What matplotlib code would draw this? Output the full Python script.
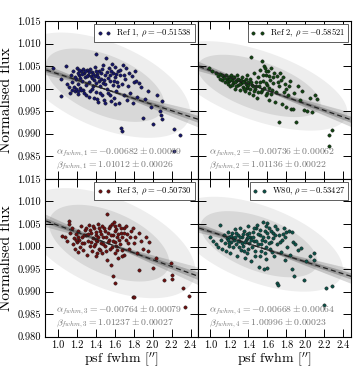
import numpy as np
import matplotlib
matplotlib.use("Agg")
import matplotlib.pyplot as plt

plt.rcParams["font.family"] = "serif"
plt.rcParams["font.serif"] = ["cmr10", "DejaVu Serif"]
plt.rcParams["mathtext.fontset"] = "cm"
plt.rcParams["axes.formatter.use_mathtext"] = True

# ---- data ----
labels = ["Ref 1", "Ref 2", "Ref 3", "W80"]
rhos = [-0.51538, -0.58521, -0.50730, -0.53427]
alphas = [-0.00682, -0.00736, -0.00764, -0.00668]
alpha_errs = [0.00069, 0.00062, 0.00079, 0.00064]
betas = [1.01012, 1.01136, 1.01237, 1.00996]
beta_errs = [0.00026, 0.00022, 0.00027, 0.00023]
colors = ["#16166a", "#134513", "#6e1010", "#0d5249"]

ref1_points = np.array([
    (0.95, 1.0046), (1.04, 1.0022), (1.04, 0.9984), (1.09, 1.0050), (1.10, 1.0010),
    (1.12, 1.0003), (1.13, 0.9990), (1.14, 1.0030), (1.15, 1.0015), (1.17, 1.0004),
    (1.18, 0.9995), (1.19, 1.0022), (1.20, 1.0045), (1.21, 1.0010), (1.22, 0.9987),
    (1.23, 1.0030), (1.24, 1.0002), (1.25, 1.0040), (1.26, 1.0018), (1.27, 0.9996),
    (1.28, 1.0035), (1.29, 1.0025), (1.30, 1.0008), (1.30, 0.9985), (1.31, 1.0042),
    (1.32, 1.0030), (1.33, 1.0015), (1.34, 0.9995), (1.35, 1.0028), (1.36, 1.0036),
    (1.37, 1.0005), (1.38, 0.9980), (1.38, 1.0020), (1.39, 1.0048), (1.40, 1.0077),
    (1.40, 1.0012), (1.41, 0.9992), (1.42, 1.0032), (1.43, 0.9970), (1.44, 1.0040),
    (1.45, 1.0005), (1.46, 1.0022), (1.47, 0.9985), (1.48, 1.0052), (1.48, 1.0012),
    (1.49, 0.9975), (1.50, 1.0030), (1.51, 1.0068), (1.52, 1.0000), (1.53, 0.9990),
    (1.54, 1.0045), (1.55, 1.0018), (1.56, 0.9972), (1.57, 1.0055), (1.58, 1.0035),
    (1.58, 1.0008), (1.59, 0.9980), (1.60, 1.0025), (1.61, 1.0048), (1.62, 0.9995),
    (1.63, 1.0015), (1.64, 1.0040), (1.65, 0.9968), (1.66, 1.0030), (1.67, 0.9912),
    (1.68, 0.9906), (1.68, 1.0010), (1.69, 1.0052), (1.70, 0.9985), (1.71, 1.0022),
    (1.72, 1.0045), (1.73, 0.9975), (1.74, 1.0005), (1.75, 1.0035), (1.76, 0.9990),
    (1.78, 1.0028), (1.79, 0.9968), (1.80, 1.0015), (1.82, 1.0040), (1.83, 1.0016),
    (1.84, 0.9982), (1.86, 1.0013), (1.88, 1.0004), (1.90, 0.9935), (1.92, 0.9978),
    (1.95, 0.9995), (1.98, 0.9960), (2.01, 0.9922), (2.05, 0.9985), (2.08, 0.9951),
    (2.09, 0.9942), (2.10, 0.9933), (2.10, 0.9972), (2.23, 0.9910), (2.29, 0.9898),
    (2.23, 0.9862),
    (1.16, 1.0038), (1.18, 1.0026), (1.21, 1.0034), (1.23, 1.0041), (1.24, 1.0024),
    (1.26, 1.0032), (1.27, 1.0044), (1.29, 1.0038), (1.31, 1.0027), (1.33, 1.0036),
    (1.34, 1.0044), (1.36, 1.0024), (1.37, 1.0032), (1.39, 1.0028), (1.41, 1.0039),
    (1.43, 1.0026), (1.44, 1.0016), (1.46, 1.0034), (1.47, 1.0044), (1.49, 1.0020),
    (1.50, 1.0010), (1.52, 1.0036), (1.53, 1.0024), (1.55, 1.0030), (1.56, 1.0040),
    (1.59, 1.0016), (1.62, 1.0032), (1.64, 1.0005), (1.66, 1.0042), (1.70, 1.0030),
    (1.25, 0.9998), (1.28, 0.9990), (1.33, 0.9982), (1.36, 1.0000), (1.42, 0.9978),
    (1.45, 0.9990), (1.50, 0.9968), (1.55, 0.9985), (1.60, 0.9965), (1.15, 0.9998),
    (1.19, 1.0000), (1.22, 0.9994),
])

ref2_points = np.array([
    (0.98, 1.0045), (1.02, 1.0040), (1.06, 1.0035), (1.08, 1.0028), (1.10, 1.0032),
    (1.12, 1.0020), (1.13, 1.0027), (1.15, 1.0015), (1.16, 1.0030), (1.17, 1.0022),
    (1.18, 1.0010), (1.19, 1.0026), (1.20, 1.0018), (1.21, 1.0005), (1.22, 1.0030),
    (1.23, 1.0020), (1.24, 1.0012), (1.25, 1.0025), (1.26, 1.0000), (1.27, 1.0016),
    (1.28, 1.0030), (1.29, 1.0008), (1.30, 1.0020), (1.31, 0.9998), (1.32, 1.0012),
    (1.33, 1.0025), (1.34, 1.0004), (1.35, 1.0018), (1.36, 0.9995), (1.37, 1.0010),
    (1.38, 1.0030), (1.39, 1.0002), (1.40, 1.0015), (1.41, 0.9990), (1.42, 1.0022),
    (1.43, 1.0070), (1.44, 1.0008), (1.45, 0.9985), (1.46, 1.0035), (1.47, 1.0000),
    (1.48, 1.0015), (1.49, 0.9980), (1.50, 1.0025), (1.51, 1.0005), (1.52, 1.0042),
    (1.53, 0.9992), (1.54, 1.0061), (1.55, 1.0018), (1.56, 1.0050), (1.57, 1.0046),
    (1.58, 0.9985), (1.59, 1.0030), (1.60, 1.0008), (1.61, 1.0040), (1.62, 0.9975),
    (1.63, 1.0020), (1.64, 1.0046), (1.65, 0.9998), (1.66, 1.0012), (1.67, 1.0035),
    (1.68, 0.9970), (1.70, 1.0028), (1.72, 0.9927), (1.72, 1.0005), (1.74, 1.0020),
    (1.75, 0.9965), (1.77, 0.9992), (1.78, 1.0010), (1.80, 0.9960), (1.82, 0.9985),
    (1.84, 1.0018), (1.85, 0.9955), (1.87, 0.9955), (1.88, 0.9990), (1.90, 0.9927),
    (1.92, 1.0005), (1.94, 0.9975), (1.96, 0.9994), (1.98, 0.9953), (2.02, 0.9950),
    (2.05, 0.9980), (2.07, 0.9948), (2.10, 0.9985), (2.12, 0.9978), (2.25, 0.9898),
    (2.28, 0.9909), (2.25, 0.9872),
    (1.14, 1.0024), (1.17, 1.0016), (1.19, 1.0020), (1.21, 1.0022), (1.23, 1.0008),
    (1.24, 1.0026), (1.26, 1.0014), (1.27, 1.0006), (1.29, 1.0022), (1.31, 1.0010),
    (1.32, 1.0020), (1.34, 1.0014), (1.35, 1.0000), (1.37, 1.0022), (1.38, 1.0004),
    (1.40, 1.0008), (1.42, 1.0000), (1.43, 1.0014), (1.45, 1.0005), (1.46, 0.9995),
    (1.48, 1.0006), (1.50, 0.9992), (1.52, 1.0014), (1.54, 0.9998), (1.56, 1.0002),
    (1.58, 1.0012), (1.60, 0.9990), (1.62, 1.0002), (1.64, 0.9988), (1.66, 1.0025),
    (1.69, 0.9992), (1.71, 1.0015), (1.58, 1.0038), (1.62, 1.0028), (1.55, 1.0030),
    (1.73, 1.0035), (1.76, 1.0025), (1.80, 1.0000), (1.83, 1.0005), (1.10, 1.0022),
    (1.12, 1.0030),
])

ref3_points = np.array([
    (1.05, 1.0024), (1.08, 1.0020), (1.10, 1.0012), (1.12, 1.0057), (1.12, 1.0050),
    (1.13, 1.0030), (1.15, 1.0040), (1.16, 1.0005), (1.17, 1.0018), (1.18, 0.9995),
    (1.19, 1.0028), (1.20, 1.0010), (1.21, 0.9988), (1.22, 1.0035), (1.23, 1.0015),
    (1.24, 1.0000), (1.25, 1.0045), (1.26, 1.0022), (1.27, 0.9992), (1.28, 1.0008),
    (1.29, 1.0037), (1.30, 1.0025), (1.31, 0.9982), (1.32, 1.0012), (1.33, 1.0048),
    (1.34, 1.0002), (1.35, 1.0030), (1.36, 0.9990), (1.37, 1.0018), (1.38, 1.0040),
    (1.39, 1.0005), (1.40, 0.9978), (1.41, 1.0025), (1.42, 1.0012), (1.43, 1.0050),
    (1.44, 0.9995), (1.45, 1.0035), (1.46, 1.0008), (1.47, 0.9985), (1.48, 1.0020),
    (1.49, 1.0042), (1.50, 1.0002), (1.51, 0.9990), (1.52, 1.0073), (1.52, 0.9970),
    (1.53, 1.0030), (1.54, 1.0015), (1.55, 1.0045), (1.56, 0.9960), (1.57, 1.0000),
    (1.58, 0.9935), (1.58, 1.0025), (1.59, 1.0055), (1.60, 0.9918), (1.60, 1.0010),
    (1.61, 0.9985), (1.62, 1.0038), (1.63, 1.0020), (1.64, 0.9975), (1.65, 1.0048),
    (1.66, 1.0005), (1.67, 1.0030), (1.68, 0.9992), (1.70, 0.9981), (1.70, 1.0042),
    (1.72, 1.0015), (1.73, 1.0028), (1.75, 0.9995), (1.77, 1.0035), (1.79, 1.0041),
    (1.79, 0.9889), (1.80, 0.9888), (1.80, 1.0008), (1.82, 1.0020), (1.84, 0.9985),
    (1.86, 1.0030), (1.86, 0.9948), (1.88, 1.0012), (1.90, 0.9995), (1.93, 1.0020),
    (1.95, 0.9989), (1.96, 1.0010), (2.00, 0.9952), (2.04, 0.9974), (2.12, 0.9926),
    (2.19, 0.9963), (2.20, 0.9937), (2.21, 0.9927), (2.32, 0.9907), (2.38, 0.9890),
    (2.34, 0.9866),
    (1.30, 1.0040), (1.32, 1.0028), (1.34, 1.0036), (1.35, 1.0010), (1.37, 1.0045),
    (1.38, 1.0002), (1.40, 1.0032), (1.41, 1.0015), (1.43, 1.0022), (1.44, 1.0040),
    (1.46, 1.0028), (1.47, 1.0045), (1.48, 1.0005), (1.50, 1.0035), (1.51, 1.0022),
    (1.53, 1.0010), (1.54, 1.0040), (1.56, 1.0025), (1.57, 1.0050), (1.58, 1.0012),
    (1.60, 1.0035), (1.61, 1.0045), (1.62, 1.0002), (1.64, 1.0028), (1.65, 1.0015),
    (1.67, 1.0040), (1.68, 1.0020), (1.70, 1.0030), (1.72, 1.0046), (1.74, 1.0008),
    (1.76, 1.0022), (1.26, 1.0008), (1.28, 1.0025), (1.22, 1.0022), (1.19, 1.0015),
    (1.45, 0.9992), (1.55, 0.9995), (1.63, 0.9992), (1.68, 0.9980), (1.42, 0.9985),
])

w80_points = np.array([
    (1.00, 1.0020), (1.03, 1.0012), (1.06, 1.0005), (1.08, 1.0000), (1.10, 1.0047),
    (1.11, 1.0015), (1.12, 0.9995), (1.14, 1.0025), (1.15, 1.0008), (1.16, 0.9990),
    (1.17, 1.0018), (1.18, 1.0032), (1.19, 1.0002), (1.20, 1.0022), (1.21, 0.9985),
    (1.22, 1.0010), (1.23, 1.0030), (1.24, 0.9998), (1.25, 1.0015), (1.26, 1.0038),
    (1.27, 1.0005), (1.28, 0.9980), (1.29, 1.0025), (1.30, 1.0012), (1.31, 1.0040),
    (1.32, 0.9992), (1.33, 1.0020), (1.34, 1.0002), (1.35, 1.0035), (1.36, 0.9975),
    (1.37, 1.0015), (1.38, 1.0028), (1.39, 0.9985), (1.40, 1.0045), (1.41, 1.0008),
    (1.42, 1.0022), (1.43, 0.9968), (1.44, 1.0000), (1.45, 1.0032), (1.46, 1.0012),
    (1.47, 0.9980), (1.48, 1.0040), (1.49, 1.0047), (1.50, 1.0005), (1.51, 0.9955),
    (1.52, 1.0025), (1.53, 0.9990), (1.54, 1.0015), (1.55, 1.0054), (1.56, 0.9950),
    (1.57, 1.0035), (1.58, 1.0000), (1.59, 0.9972), (1.60, 1.0052), (1.60, 0.9952),
    (1.61, 1.0020), (1.62, 1.0042), (1.63, 0.9995), (1.64, 1.0010), (1.66, 1.0030),
    (1.67, 0.9978), (1.68, 1.0045), (1.70, 0.9918), (1.70, 1.0005), (1.71, 0.9915),
    (1.72, 1.0025), (1.74, 0.9988), (1.75, 1.0015), (1.77, 1.0041), (1.78, 0.9970),
    (1.80, 1.0032), (1.81, 1.0000), (1.83, 1.0035), (1.84, 0.9982), (1.86, 1.0032),
    (1.86, 0.9950), (1.87, 1.0010), (1.88, 0.9935), (1.89, 1.0006), (1.92, 0.9992),
    (1.95, 0.9996), (1.99, 0.9926), (2.01, 0.9967), (2.05, 0.9978), (2.09, 0.9985),
    (2.09, 0.9970), (2.22, 0.9907), (2.28, 0.9912), (2.20, 0.9870),
    (1.18, 1.0015), (1.20, 1.0008), (1.22, 1.0024), (1.24, 1.0018), (1.26, 1.0022),
    (1.27, 1.0030), (1.29, 1.0012), (1.31, 1.0020), (1.33, 1.0008), (1.34, 1.0028),
    (1.36, 1.0010), (1.38, 1.0018), (1.40, 1.0022), (1.41, 1.0030), (1.43, 1.0015),
    (1.45, 1.0020), (1.46, 1.0040), (1.48, 1.0012), (1.50, 1.0028), (1.52, 1.0036),
    (1.53, 1.0005), (1.55, 1.0022), (1.57, 1.0012), (1.58, 1.0045), (1.60, 1.0030),
    (1.62, 1.0008), (1.64, 1.0035), (1.66, 1.0018), (1.68, 1.0025), (1.70, 1.0038),
    (1.73, 1.0010), (1.76, 1.0028), (1.79, 1.0020), (1.35, 0.9990), (1.40, 0.9995),
    (1.47, 0.9990), (1.52, 0.9978), (1.57, 0.9985), (1.65, 0.9988), (1.30, 0.9998),
])

panels = [ref1_points, ref2_points, ref3_points, w80_points]
x_ticks = [1.0, 1.2, 1.4, 1.6, 1.8, 2.0, 2.2, 2.4]
y_ticks = [0.980, 0.985, 0.990, 0.995, 1.000, 1.005, 1.010, 1.015]


def rho_ellipse(ax, x, y, rho, k, color):
    # contour of a bivariate normal with the data's means/stds and the quoted rho
    t = np.linspace(0, 2 * np.pi, 200)
    u = k * np.cos(t)
    v = k * (rho * np.cos(t) + np.sqrt(1 - rho ** 2) * np.sin(t))
    ax.fill(x.mean() + x.std() * u, y.mean() + y.std() * v, color=color, lw=0, zorder=0)


fig, axes = plt.subplots(2, 2, figsize=(3.56, 3.68), dpi=100, sharex=True, sharey=True)
fig.subplots_adjust(left=0.127, right=0.986, top=0.943, bottom=0.085, wspace=0, hspace=0)

xx = np.linspace(0.8, 2.6, 50)
for i, ax in enumerate(axes.flat):
    pts = panels[i]
    x, y = pts[:, 0], pts[:, 1]

    rho_ellipse(ax, x, y, rhos[i], 3.3, "#eeeeee")
    rho_ellipse(ax, x, y, rhos[i], 2.3, "#d8d8d8")

    # band of fits around the best line, pivoting at the mean fwhm
    x0 = x.mean()
    y0 = betas[i] + alphas[i] * x0
    for t in np.linspace(-2.5, 2.5, 21):
        slope = alphas[i] + t * alpha_errs[i]
        ax.plot(xx, y0 + slope * (xx - x0), color="#888888", lw=0.5, alpha=0.3, zorder=1)
    for t in np.linspace(-1.0, 1.0, 9):
        slope = alphas[i] + t * alpha_errs[i]
        ax.plot(xx, y0 + slope * (xx - x0), color="#555555", lw=0.5, alpha=0.35, zorder=1)

    ax.plot(x, y, "o", ms=2.4, color=colors[i], mec="#111111", mew=0.3,
            ls="none", zorder=3, label=f"{labels[i]}, $\\rho = {rhos[i]:.5f}$")
    ax.plot(xx, betas[i] + alphas[i] * xx, color="#222222", lw=0.9, ls=(0, (4, 2.5)), zorder=4)

    ax.text(0.07, 0.17,
            f"$\\alpha_{{fwhm,{i + 1}}} = {alphas[i]:.5f} \\pm {alpha_errs[i]:.5f}$",
            transform=ax.transAxes, fontsize=7.0, color="#777777", va="center")
    ax.text(0.07, 0.085,
            f"$\\beta_{{fwhm,{i + 1}}} = {betas[i]:.5f} \\pm {beta_errs[i]:.5f}$",
            transform=ax.transAxes, fontsize=7.0, color="#777777", va="center")

    leg = ax.legend(loc="upper right", numpoints=2, fontsize=6.2, fancybox=False,
                    framealpha=1, edgecolor="#444444", handlelength=1.6,
                    borderpad=0.35, handletextpad=0.6, borderaxespad=0.35)
    leg.get_frame().set_linewidth(0.6)

    ax.set_xlim(0.87, 2.48)
    ax.set_ylim(0.980, 1.015)
    ax.set_xticks(x_ticks)
    ax.set_yticks(y_ticks)
    ax.tick_params(direction="in", top=True, right=True, length=6, width=0.7,
                   labelsize=7.5, pad=3)
    for spine in ax.spines.values():
        spine.set_linewidth(0.8)

for ax in axes[1]:
    ax.set_xlabel("psf fwhm [$''$]", fontsize=10, labelpad=0)
    ax.set_xticklabels([f"{v:.1f}" for v in x_ticks])
for ax in axes[:, 0]:
    ax.set_ylabel("Normalised flux", fontsize=11, labelpad=3)
    ax.set_yticklabels([f"{v:.3f}" for v in y_ticks])

# top row hides its bottom tick label so it does not collide with the row below
axes[0, 0].yaxis.get_major_ticks()[0].label1.set_visible(False)

fig.savefig("out.png", dpi=100)
